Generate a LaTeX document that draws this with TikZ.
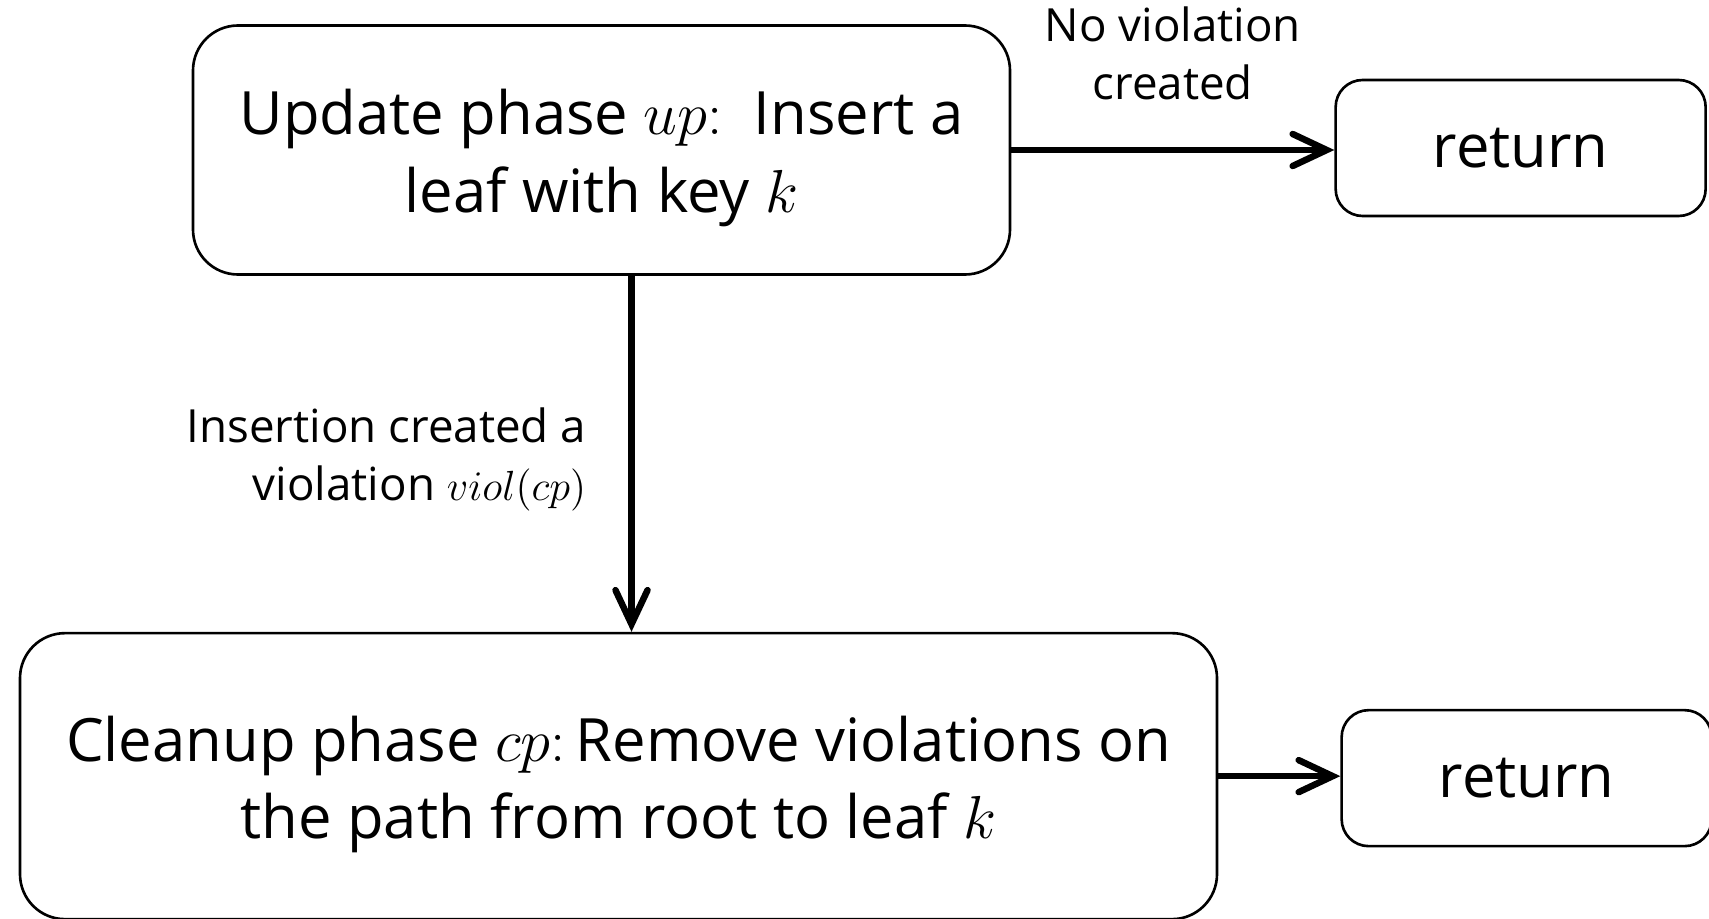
\documentclass[tikz,border=0pt]{standalone}
\usepackage{fontspec}
\setmainfont{Open Sans}
\usepackage{tikz}
\usetikzlibrary{arrows.meta, positioning}
\newcommand{\topgap}{\rule{0pt}{17.5pt}}
\tikzset{
  phase/.style = {rectangle, rounded corners=4.5mm, draw=black, line width=0.75pt,
                  font=\fontsize{17}{22}\selectfont, align=center, inner sep=2pt},
  ret/.style   = {rectangle, rounded corners=2.7mm, draw=black, line width=0.75pt,
                  minimum width=3.7cm, minimum height=1.36cm,
                  font=\fontsize{17}{22}\selectfont},
  arr/.style   = {-{Straight Barb[length=3.4mm, width=3.2mm, line cap=round]},
                  line width=1.85pt, color=black},
  lbl/.style   = {font=\fontsize{13}{16.5}\selectfont, inner sep=2pt},
}

\begin{document}
\begin{tikzpicture}
  \useasboundingbox (0,0) rectangle (17.09,-9.18);

  % ── phases
  \node[phase, minimum width=8.17cm, minimum height=2.49cm] (up) at (6.015,-1.5)
    {\topgap Update phase $up{:}$\ \ Insert a\\leaf with key $k$};
  \node[phase, minimum width=11.97cm, minimum height=2.86cm,
        below=3.56cm of up, xshift=1.7mm] (cp)
    {\topgap Cleanup phase $cp{:}$\,Remove violations on\\the path from root to leaf $k$};

  % ── returns
  \node[ret, right=3.23cm of up, yshift=0.2mm] (ret1) {return};
  \node[ret, right=1.22cm of cp, yshift=-0.2mm] (ret2) {return};

  % ── arrows
  \draw[arr] (up) -- (ret1.west |- up.east)
    node[midway, above=4mm, lbl, align=center] {No violation\\created};
  \draw[arr] ([xshift=3mm]up.south) -- ([xshift=3mm]up.south |- cp.north)
    node[midway, left=3.5mm, yshift=-0.6mm, lbl, align=right] {Insertion created a\\violation $viol(cp)$};
  \draw[arr] (cp) -- (ret2.west |- cp.east);

\end{tikzpicture}
\end{document}
